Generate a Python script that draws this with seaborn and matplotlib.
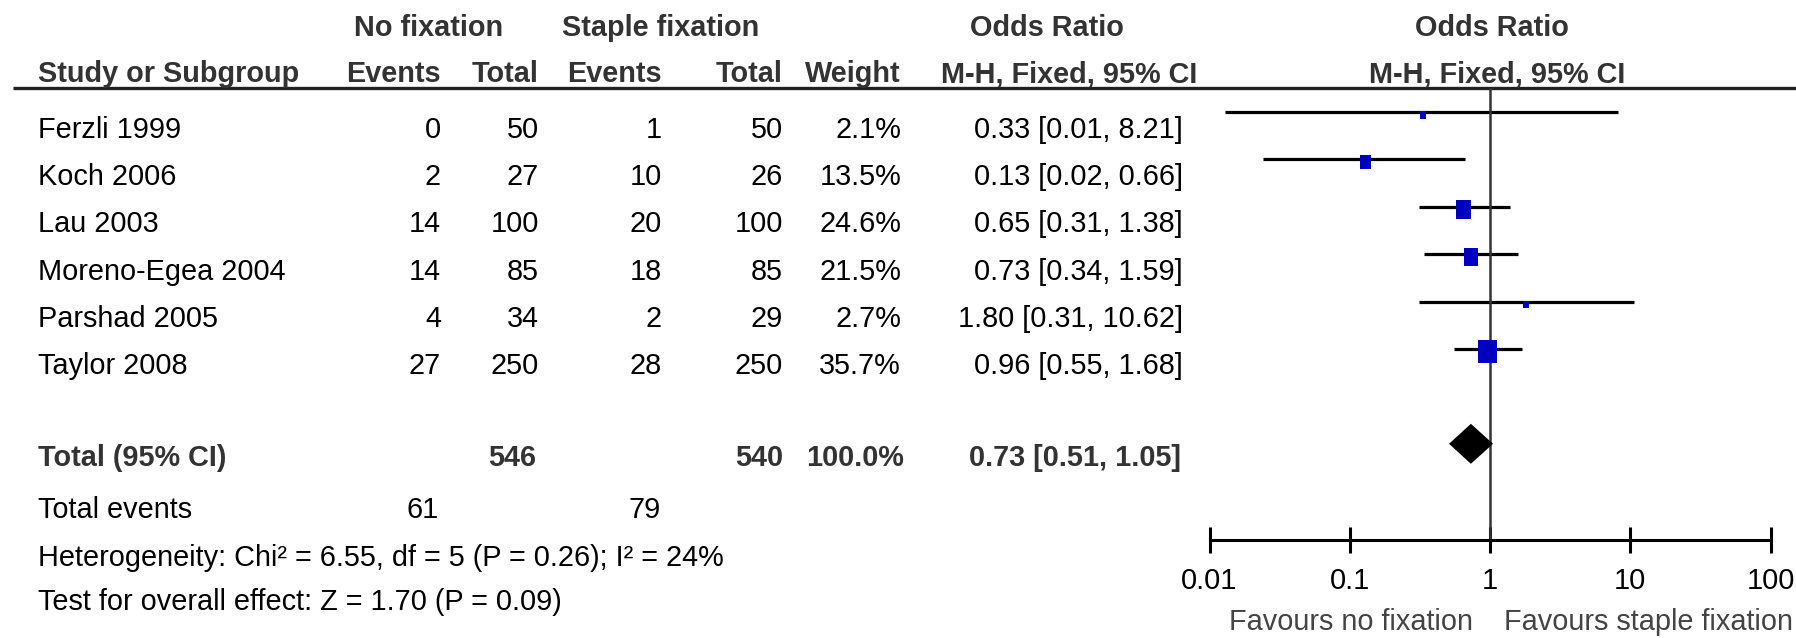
import matplotlib.pyplot as plt
import numpy as np
import seaborn as sns
from matplotlib.path import Path

# data
studies = ["Ferzli 1999", "Koch 2006", "Lau 2003", "Moreno-Egea 2004",
           "Parshad 2005", "Taylor 2008"]
nofix_events = [0, 2, 14, 14, 4, 27]
nofix_total = [50, 27, 100, 85, 34, 250]
staple_events = [1, 10, 20, 18, 2, 28]
staple_total = [50, 26, 100, 85, 29, 250]
weights = [2.1, 13.5, 24.6, 21.5, 2.7, 35.7]
odds = [0.33, 0.13, 0.65, 0.73, 1.80, 0.96]
ci_low = [0.013, 0.024, 0.31, 0.34, 0.31, 0.55]
ci_high = [8.21, 0.66, 1.38, 1.59, 10.62, 1.68]

total_n = [546, 540]
total_events = [61, 79]
total_weight = 100.0
total_or = 0.73
total_low = 0.51
total_high = 1.05
heterogeneity = "Heterogeneity: Chi² = 6.55, df = 5 (P = 0.26); I² = 24%"
overall = "Test for overall effect: Z = 1.70 (P = 0.09)"
ticks = [0.01, 0.1, 1, 10, 100]
tick_labels = ["0.01", "0.1", "1", "10", "100"]
favours = ["Favours no fixation", "Favours staple fixation"]

sns.set_theme(style="white")
plt.rcParams["font.family"] = ["Liberation Sans Narrow", "Liberation Sans", "DejaVu Sans"]

W, H, DPI = 1796, 638, 100
FS = 20.8
HEAD = "#333333"
BLUE = "#0000BF"
PX = 72 / DPI  # points per pixel

fig = plt.figure(figsize=(W / DPI, H / DPI), dpi=DPI)

# table part, laid out in pixel coordinates
tab = fig.add_axes([0, 0, 1, 1])
tab.set_xlim(0, W)
tab.set_ylim(H, 0)
tab.axis("off")


def put(x, y, s, ha="right", bold=False, color="black"):
    tab.text(x, y, s, ha=ha, va="baseline", fontsize=FS,
             fontweight="bold" if bold else "normal", color=color)


# headers
put(429, 36.5, "No fixation", "center", True, HEAD)
put(661, 36.5, "Staple fixation", "center", True, HEAD)
put(1047, 36.5, "Odds Ratio", "center", True, HEAD)
put(1492, 36.5, "Odds Ratio", "center", True, HEAD)
put(38, 82.5, "Study or Subgroup", "left", True, HEAD)
col_x = [441, 539, 662, 783, 901]
for x, s in zip(col_x, ["Events", "Total", "Events", "Total", "Weight"]):
    put(x, 82.5, s, "right", True, HEAD)
put(1069, 82.5, "M-H, Fixed, 95% CI", "center", True, HEAD)
put(1497, 82.5, "M-H, Fixed, 95% CI", "center", True, HEAD)
tab.plot([13, W], [88, 88], color="#222222", lw=2.4, solid_capstyle="butt")

# study rows
for i, name in enumerate(studies):
    y = 137.8 + 47.25 * i
    put(38, y, name, "left")
    vals = [nofix_events[i], nofix_total[i], staple_events[i], staple_total[i]]
    for x, v in zip(col_x, vals):
        put(x, y, str(v))
    put(col_x[4], y, f"{weights[i]:.1f}%")
    put(1183, y, f"{odds[i]:.2f} [{ci_low[i]:.2f}, {ci_high[i]:.2f}]")

# totals
y = 465.5
put(38, y, "Total (95% CI)", "left", True, HEAD)
put(col_x[1] - 3, y, str(total_n[0]), bold=True, color=HEAD)
put(col_x[3], y, str(total_n[1]), bold=True, color=HEAD)
put(col_x[4] + 3, y, f"{total_weight:.1f}%", bold=True, color=HEAD)
put(1181, y, f"{total_or:.2f} [{total_low:.2f}, {total_high:.2f}]", bold=True, color=HEAD)

y = 517.5
put(38, y, "Total events", "left")
put(col_x[0] - 2, y, str(total_events[0]))
put(col_x[2] - 1, y, str(total_events[1]))
put(38, 565.5, heterogeneity, "left")
put(38, 610.5, overall, "left")

put(1473, 630.5, favours[0], "right", color="#444444")
put(1504, 630.5, favours[1], "left", color="#444444")

# forest panel on a log odds-ratio axis
x0, x1, top, bottom = 1209.5, 1770.6, 88, 540
row0, step = 112, 47.4
ax = fig.add_axes([x0 / W, (H - bottom) / H, (x1 - x0) / W, (bottom - top) / H])
ax.patch.set_alpha(0)
ax.set_xscale("log")
ax.set_xlim(ticks[0], ticks[-1])
ax.set_ylim((bottom - row0) / step, (top - row0) / step)

rows = np.arange(len(studies))
ax.hlines(rows, ci_low, ci_high, color="black", lw=2.3)
ax.axvline(1, color=HEAD, lw=1.8)

# weight squares: area proportional to weight, slightly taller than wide
rect = Path([(-0.4, -0.5), (0.4, -0.5), (0.4, 0.5), (-0.4, 0.5), (-0.4, -0.5)],
            [Path.MOVETO, Path.LINETO, Path.LINETO, Path.LINETO, Path.CLOSEPOLY])
heights = np.maximum(3.85 * np.sqrt(weights), 7.5)
size_map = {w: (h * PX) ** 2 for w, h in zip(weights, heights)}
sns.scatterplot(x=odds, y=rows + 0.06, size=weights, sizes=size_map,
                marker=rect, color=BLUE, linewidth=0, legend=False, ax=ax, zorder=3)

# pooled diamond
dy = 20 / step
yt = len(studies) + 1
ax.fill([total_low, total_or, total_high, total_or], [yt, yt - dy, yt, yt + dy],
        color="black", lw=0, zorder=3)

ax.set_xticks(ticks, tick_labels)
ax.minorticks_off()
ax.set_yticks([])
ax.tick_params(axis="x", direction="inout", length=26 * PX, width=2.2,
               pad=10, labelsize=FS, colors="black", bottom=True)
for side in ["top", "left", "right"]:
    ax.spines[side].set_visible(False)
ax.spines["bottom"].set_linewidth(2.2)
ax.spines["bottom"].set_color("black")
ax.set_xlabel("")
ax.set_ylabel("")

fig.savefig("out.png", dpi=DPI)
